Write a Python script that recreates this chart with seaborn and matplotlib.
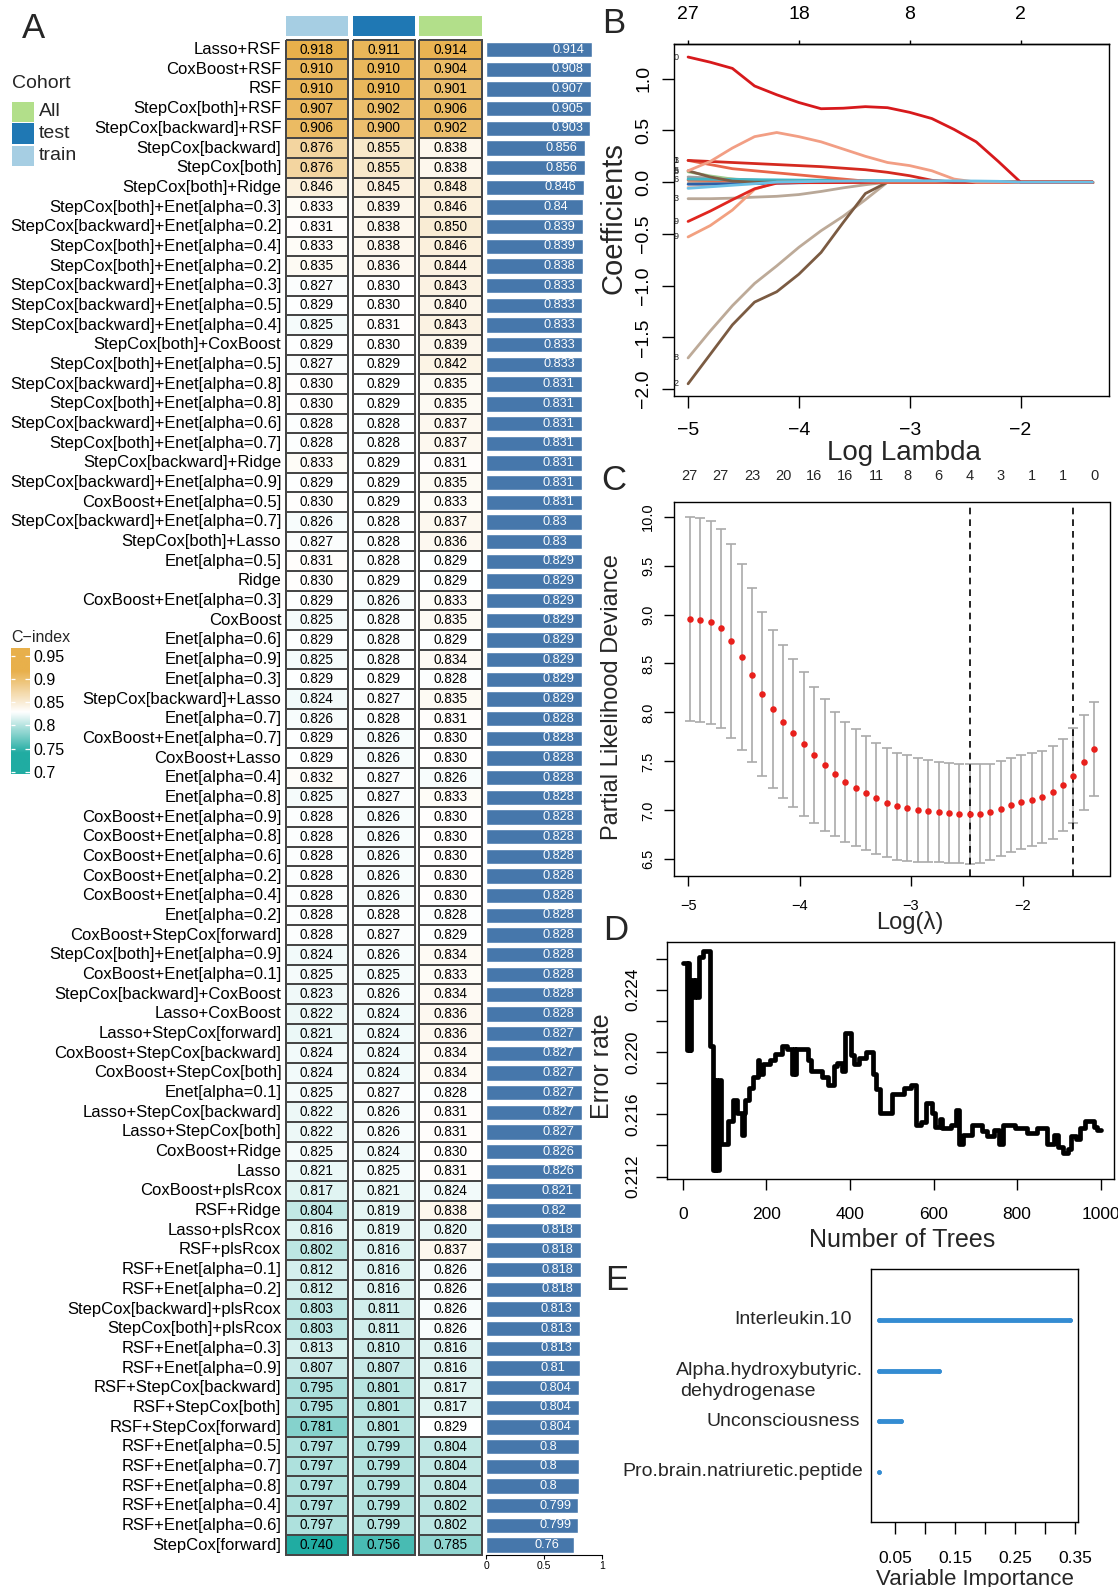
import numpy as np
import pandas as pd
import matplotlib
matplotlib.use("Agg")
import matplotlib.pyplot as plt
import matplotlib.transforms as mtransforms
from matplotlib.colors import LinearSegmentedColormap, Normalize
from matplotlib.patches import Rectangle
import seaborn as sns

# ----------------------------------------------------------------- data (A)
models = [
    "Lasso+RSF", "CoxBoost+RSF", "RSF", "StepCox[both]+RSF", "StepCox[backward]+RSF",
    "StepCox[backward]", "StepCox[both]", "StepCox[both]+Ridge",
    "StepCox[both]+Enet[alpha=0.3]", "StepCox[backward]+Enet[alpha=0.2]",
    "StepCox[both]+Enet[alpha=0.4]", "StepCox[both]+Enet[alpha=0.2]",
    "StepCox[backward]+Enet[alpha=0.3]", "StepCox[backward]+Enet[alpha=0.5]",
    "StepCox[backward]+Enet[alpha=0.4]", "StepCox[both]+CoxBoost",
    "StepCox[both]+Enet[alpha=0.5]", "StepCox[backward]+Enet[alpha=0.8]",
    "StepCox[both]+Enet[alpha=0.8]", "StepCox[backward]+Enet[alpha=0.6]",
    "StepCox[both]+Enet[alpha=0.7]", "StepCox[backward]+Ridge",
    "StepCox[backward]+Enet[alpha=0.9]", "CoxBoost+Enet[alpha=0.5]",
    "StepCox[backward]+Enet[alpha=0.7]", "StepCox[both]+Lasso", "Enet[alpha=0.5]",
    "Ridge", "CoxBoost+Enet[alpha=0.3]", "CoxBoost", "Enet[alpha=0.6]",
    "Enet[alpha=0.9]", "Enet[alpha=0.3]", "StepCox[backward]+Lasso", "Enet[alpha=0.7]",
    "CoxBoost+Enet[alpha=0.7]", "CoxBoost+Lasso", "Enet[alpha=0.4]", "Enet[alpha=0.8]",
    "CoxBoost+Enet[alpha=0.9]", "CoxBoost+Enet[alpha=0.8]", "CoxBoost+Enet[alpha=0.6]",
    "CoxBoost+Enet[alpha=0.2]", "CoxBoost+Enet[alpha=0.4]", "Enet[alpha=0.2]",
    "CoxBoost+StepCox[forward]", "StepCox[both]+Enet[alpha=0.9]",
    "CoxBoost+Enet[alpha=0.1]", "StepCox[backward]+CoxBoost", "Lasso+CoxBoost",
    "Lasso+StepCox[forward]", "CoxBoost+StepCox[backward]", "CoxBoost+StepCox[both]",
    "Enet[alpha=0.1]", "Lasso+StepCox[backward]", "Lasso+StepCox[both]",
    "CoxBoost+Ridge", "Lasso", "CoxBoost+plsRcox", "RSF+Ridge", "Lasso+plsRcox",
    "RSF+plsRcox", "RSF+Enet[alpha=0.1]", "RSF+Enet[alpha=0.2]",
    "StepCox[backward]+plsRcox", "StepCox[both]+plsRcox", "RSF+Enet[alpha=0.3]",
    "RSF+Enet[alpha=0.9]", "RSF+StepCox[backward]", "RSF+StepCox[both]",
    "RSF+StepCox[forward]", "RSF+Enet[alpha=0.5]", "RSF+Enet[alpha=0.7]",
    "RSF+Enet[alpha=0.8]", "RSF+Enet[alpha=0.4]", "RSF+Enet[alpha=0.6]",
    "StepCox[forward]",
]
cidx_train = [
    0.918, 0.910, 0.910, 0.907, 0.906, 0.876, 0.876, 0.846, 0.833, 0.831, 0.833, 0.835,
    0.827, 0.829, 0.825, 0.829, 0.827, 0.830, 0.830, 0.828, 0.828, 0.833, 0.829, 0.830,
    0.826, 0.827, 0.831, 0.830, 0.829, 0.825, 0.829, 0.825, 0.829, 0.824, 0.826, 0.829,
    0.829, 0.832, 0.825, 0.828, 0.828, 0.828, 0.828, 0.828, 0.828, 0.828, 0.824, 0.825,
    0.823, 0.822, 0.821, 0.824, 0.824, 0.825, 0.822, 0.822, 0.825, 0.821, 0.817, 0.804,
    0.816, 0.802, 0.812, 0.812, 0.803, 0.803, 0.813, 0.807, 0.795, 0.795, 0.781, 0.797,
    0.797, 0.797, 0.797, 0.797, 0.740,
]
cidx_test = [
    0.911, 0.910, 0.910, 0.902, 0.900, 0.855, 0.855, 0.845, 0.839, 0.838, 0.838, 0.836,
    0.830, 0.830, 0.831, 0.830, 0.829, 0.829, 0.829, 0.828, 0.828, 0.829, 0.829, 0.829,
    0.828, 0.828, 0.828, 0.829, 0.826, 0.828, 0.828, 0.828, 0.829, 0.827, 0.828, 0.826,
    0.826, 0.827, 0.827, 0.826, 0.826, 0.826, 0.826, 0.826, 0.828, 0.827, 0.826, 0.825,
    0.826, 0.824, 0.824, 0.824, 0.824, 0.827, 0.826, 0.826, 0.824, 0.825, 0.821, 0.819,
    0.819, 0.816, 0.816, 0.816, 0.811, 0.811, 0.810, 0.807, 0.801, 0.801, 0.801, 0.799,
    0.799, 0.799, 0.799, 0.799, 0.756,
]
cidx_all = [
    0.914, 0.904, 0.901, 0.906, 0.902, 0.838, 0.838, 0.848, 0.846, 0.850, 0.846, 0.844,
    0.843, 0.840, 0.843, 0.839, 0.842, 0.835, 0.835, 0.837, 0.837, 0.831, 0.835, 0.833,
    0.837, 0.836, 0.829, 0.829, 0.833, 0.835, 0.829, 0.834, 0.828, 0.835, 0.831, 0.830,
    0.830, 0.826, 0.833, 0.830, 0.830, 0.830, 0.830, 0.830, 0.828, 0.829, 0.834, 0.833,
    0.834, 0.836, 0.836, 0.834, 0.834, 0.828, 0.831, 0.831, 0.830, 0.831, 0.824, 0.838,
    0.820, 0.837, 0.826, 0.826, 0.826, 0.826, 0.816, 0.816, 0.817, 0.817, 0.829, 0.804,
    0.804, 0.804, 0.802, 0.802, 0.785,
]
cidx_mean = [
    0.914, 0.908, 0.907, 0.905, 0.903, 0.856, 0.856, 0.846, 0.84, 0.839, 0.839, 0.838,
    0.833, 0.833, 0.833, 0.833, 0.833, 0.831, 0.831, 0.831, 0.831, 0.831, 0.831, 0.831,
    0.83, 0.83, 0.829, 0.829, 0.829, 0.829, 0.829, 0.829, 0.829, 0.829, 0.828, 0.828,
    0.828, 0.828, 0.828, 0.828, 0.828, 0.828, 0.828, 0.828, 0.828, 0.828, 0.828, 0.828,
    0.828, 0.828, 0.827, 0.827, 0.827, 0.827, 0.827, 0.827, 0.826, 0.826, 0.821, 0.82,
    0.818, 0.818, 0.818, 0.818, 0.813, 0.813, 0.813, 0.81, 0.804, 0.804, 0.804, 0.8,
    0.8, 0.8, 0.799, 0.799, 0.76,
]
cohorts = ["train", "test", "All"]
cohort_colors = {"train": "#A6CEE3", "test": "#1F78B4", "All": "#B2DF8A"}
cidx_legend_ticks = [0.95, 0.9, 0.85, 0.8, 0.75, 0.7]

# ----------------------------------------------------------------- data (B)
logl_B = [-5.0, -4.8, -4.6, -4.4, -4.2, -4.0, -3.8, -3.6, -3.4, -3.2, -3.0, -2.8,
          -2.6, -2.4, -2.2, -2.0, -1.35]
coef_B = {
    "v01": [-0.06, -0.045, -0.03, -0.015, 0.0, 0.004, 0.008, 0.010, 0.012, 0.013, 0.013,
            0.013, 0.012, 0.011, 0.008, 0.0, 0.0],
    "v02": [0.03, 0.028, 0.026, 0.024, 0.022, 0.02, 0.019, 0.018, 0.016, 0.014, 0.012,
            0.010, 0.008, 0.006, 0.004, 0.0, 0.0],
    "v04": [-0.02, -0.018, -0.016, -0.014, -0.01, -0.006, -0.003, 0, 0, 0, 0, 0, 0, 0, 0, 0, 0],
    "v06": [0.10, 0.06, 0.03, 0.01, 0, 0, 0, 0, 0, 0, 0, 0, 0, 0, 0, 0, 0],
    "v07": [-0.05, -0.03, -0.01, 0, 0, 0, 0, 0, 0, 0, 0, 0, 0, 0, 0, 0, 0],
    "v08": [0.05, 0.04, 0.03, 0.02, 0.01, 0, 0, 0, 0, 0, 0, 0, 0, 0, 0, 0, 0],
    "v11": [0.02, 0.015, 0.01, 0.005, 0, 0, 0, 0, 0, 0, 0, 0, 0, 0, 0, 0, 0],
    "v23": [-0.16, -0.16, -0.155, -0.145, -0.137, -0.12, -0.09, -0.055, -0.025, 0.0, 0,
            0, 0, 0, 0, 0, 0],
    "v18": [-1.70, -1.44, -1.195, -0.98, -0.81, -0.63, -0.47, -0.33, -0.17, 0.0, 0, 0,
            0, 0, 0, 0, 0],
    "v22": [-1.95, -1.665, -1.38, -1.16, -1.06, -0.89, -0.68, -0.39, -0.11, 0.0, 0, 0,
            0, 0, 0, 0, 0],
    "v21": [0.11, 0.05, 0.01, 0.0, 0, 0, 0, 0, 0, 0, 0, 0, 0, 0, 0, 0, 0],
    "v29": [-0.53, -0.42, -0.27, -0.07, 0.0, 0, 0, 0, 0, 0, 0, 0, 0, 0, 0, 0, 0],
    "v19": [-0.38, -0.28, -0.17, -0.064, -0.01, -0.005, -0.005, -0.004, -0.002, 0.0, 0,
            0, 0, 0, 0, 0, 0],
    "v05": [0.21, 0.17, 0.13, 0.11, 0.09, 0.07, 0.05, 0.03, 0.01, 0.0, 0, 0, 0, 0, 0, 0, 0],
    "v03": [0.21, 0.20, 0.19, 0.18, 0.17, 0.16, 0.15, 0.135, 0.12, 0.095, 0.062, 0.018,
            0.0, 0, 0, 0, 0],
    "v13": [0.11, 0.20, 0.33, 0.44, 0.48, 0.44, 0.39, 0.32, 0.25, 0.19, 0.16, 0.11, 0.03,
            0.0, 0, 0, 0],
    "v10": [1.21, 1.16, 1.10, 0.93, 0.845, 0.77, 0.71, 0.715, 0.73, 0.72, 0.675, 0.615,
            0.51, 0.39, 0.20, 0.0, 0.0],
    "v09": [0.0, 0.0, 0.0, 0.0, 0.0, 0.0, 0.0, 0.0, 0.0, 0.0, 0.0, 0.0, 0.0, 0.0, 0.0,
            0.0, 0.0],
}
colors_B = {
    "v01": "#6CC0E5", "v02": "#41B6C4", "v04": "#2B5FA8", "v06": "#9CCB8E",
    "v07": "#F6C1A8", "v08": "#A0A0A0", "v11": "#E07050", "v23": "#B9A898",
    "v18": "#BDAA98", "v22": "#7B5B42", "v21": "#7D5F47", "v29": "#F2A080",
    "v19": "#E0261F", "v05": "#E8664A", "v03": "#D42A20", "v13": "#F29E84",
    "v10": "#D7191C", "v09": "#BDAA98",
}
tags_B = {"v10": "0", "v03": "3", "v05": "1", "v21": "5", "v06": "8", "v02": "6",
          "v23": "3", "v19": "9", "v29": "9", "v18": "8", "v22": "2"}
top_B_pos = [-5, -4, -3, -2]
top_B_lab = ["27", "18", "8", "2"]

# ----------------------------------------------------------------- data (C)
logl_C = [-4.985, -4.892, -4.799, -4.706, -4.613, -4.520, -4.427, -4.334, -4.241, -4.148,
          -4.055, -3.962, -3.869, -3.776, -3.683, -3.590, -3.497, -3.404, -3.311, -3.218,
          -3.125, -3.032, -2.939, -2.846, -2.753, -2.660, -2.567, -2.474, -2.381, -2.288,
          -2.195, -2.102, -2.009, -1.916, -1.823, -1.730, -1.637, -1.544, -1.451, -1.358]
dev_C = [8.958, 8.948, 8.920, 8.860, 8.730, 8.570, 8.380, 8.190, 8.035, 7.906,
         7.790, 7.678, 7.566, 7.463, 7.372, 7.290, 7.232, 7.177, 7.123, 7.079,
         7.041, 7.021, 7.004, 6.994, 6.983, 6.973, 6.966, 6.963, 6.966, 6.983,
         7.017, 7.055, 7.089, 7.109, 7.137, 7.184, 7.259, 7.354, 7.490, 7.630]
se_C = [1.042, 1.042, 1.035, 1.014, 0.990, 0.950, 0.888, 0.836, 0.805, 0.784,
        0.756, 0.732, 0.698, 0.671, 0.633, 0.616, 0.596, 0.583, 0.569, 0.558,
        0.548, 0.541, 0.527, 0.517, 0.514, 0.507, 0.508, 0.507, 0.504, 0.494,
        0.487, 0.483, 0.480, 0.473, 0.469, 0.477, 0.473, 0.486, 0.488, 0.480]
nvars_C = ["27", "27", "23", "20", "16", "16", "11", "8", "6", "4", "3", "1", "1", "0"]
lambda_min = -2.474
lambda_1se = -1.544

# ----------------------------------------------------------------- data (D)
trees_D = [1, 10, 12, 14, 16, 18, 20, 26, 30, 35, 39, 48, 64, 72, 75, 77, 80, 83, 86, 92,
           109, 121, 130, 142, 146, 150, 158, 167, 179, 183, 191, 208, 220, 237, 249, 262,
           266, 268, 270, 299, 307, 332, 348, 361, 369, 381, 389, 402, 410, 422, 439, 454,
           462, 472, 501, 530, 546, 559, 571, 583, 596, 604, 616, 620, 641, 653, 662, 670,
           691, 715, 728, 744, 757, 765, 794, 823, 847, 872, 889, 897, 909, 922, 930, 942,
           950, 963, 984, 992, 1000]
err_D = [0.2257, 0.2201, 0.2257, 0.2201, 0.2246, 0.2201, 0.2246, 0.2235, 0.2246, 0.2235,
         0.2261, 0.2265, 0.2204, 0.2124, 0.2182, 0.2124, 0.2182, 0.2124, 0.2182, 0.2141,
         0.2156, 0.2169, 0.2161, 0.2147, 0.2161, 0.2169, 0.2177, 0.2184, 0.2195, 0.2186,
         0.2192, 0.2195, 0.2199, 0.2204, 0.2202, 0.2186, 0.2202, 0.2186, 0.2202, 0.2195,
         0.2188, 0.2184, 0.2179, 0.2191, 0.2193, 0.2188, 0.2212, 0.2198, 0.2192, 0.2196,
         0.2200, 0.2186, 0.2176, 0.2161, 0.2173, 0.2177, 0.2179, 0.2153, 0.2155, 0.2167,
         0.2161, 0.2152, 0.2157, 0.2151, 0.2153, 0.2163, 0.2141, 0.2147, 0.2153, 0.2149,
         0.2146, 0.2150, 0.2141, 0.2153, 0.2151, 0.2148, 0.2151, 0.2141, 0.2147, 0.2139,
         0.2135, 0.2138, 0.2146, 0.2144, 0.2151, 0.2156, 0.2152, 0.2150, 0.2150]

# ----------------------------------------------------------------- data (E)
vars_E = ["Interleukin.10", "Alpha.hydroxybutyric.\ndehydrogenase", "Unconsciousness",
          "Pro.brain.natriuretic.peptide"]
vimp_E = [0.3412, 0.1224, 0.0592, 0.0226]
ticks_E = [0.05, 0.10, 0.15, 0.20, 0.25, 0.30, 0.35]
ticklabels_E = ["0.05", "", "0.15", "", "0.25", "", "0.35"]

# ----------------------------------------------------------------- style
sns.set_style("white")
plt.rcParams["font.family"] = ["Liberation Sans", "DejaVu Sans"]
plt.rcParams["axes.linewidth"] = 1.0
plt.rcParams["axes.edgecolor"] = "black"
plt.rcParams["xtick.color"] = "black"
plt.rcParams["ytick.color"] = "black"

W, H = 1118, 1587
fig = plt.figure(figsize=(W / 100, H / 100), dpi=100)


def add_ax(l, t, r, b, **kw):
    return fig.add_axes([l / W, 1 - b / H, (r - l) / W, (b - t) / H], **kw)


# ----------------------------------------------------------------- panel A
ROW_T, ROW_B = 39.8, 1555
cmap = LinearSegmentedColormap.from_list("cidx", ["#20ACA2", "#FFFFFF", "#E8B04B"])
VMIN, VMAX = 0.74, 0.918
col_x = [(285.5, 348), (352.5, 415), (419, 482)]
col_vals = {"train": cidx_train, "test": cidx_test, "All": cidx_all}

for j, name in enumerate(cohorts):
    xl, xr = col_x[j]
    ax = add_ax(xl, ROW_T, xr, ROW_B)
    df = pd.DataFrame({name: col_vals[name]}, index=models)
    sns.heatmap(df, ax=ax, cmap=cmap, vmin=VMIN, vmax=VMAX, annot=True, fmt=".3f",
                annot_kws=dict(fontsize=9.8, color="black"), linewidths=1.1,
                linecolor="#474747", cbar=False, xticklabels=False,
                yticklabels=(j == 0))
    ax.collections[0].set_clip_on(False)
    if j == 0:
        ax.set_yticks(np.arange(len(models)) + 0.5)
        ax.set_yticklabels(models, rotation=0, fontsize=12, ha="right")
        ax.tick_params(axis="y", length=0, pad=3)
    ax.set_ylabel("")
    hax = add_ax(xl, 16, xr, 35.5)
    hax.set_facecolor(cohort_colors[name])
    hax.set_xticks([]); hax.set_yticks([])
    for s in hax.spines.values():
        s.set_visible(False)

bax = add_ax(486, ROW_T, 601.7, ROW_B)
sns.barplot(x=cidx_mean, y=models, orient="h", color="#4677AB", saturation=1,
            width=0.78, ax=bax)
bax.set_xlim(0, 1)
bax.set_ylim(len(models) - 0.5, -0.5)
bax.set_yticks([])
bax.set_ylabel(""); bax.set_xlabel("")
for s in ["top", "right", "left"]:
    bax.spines[s].set_visible(False)
bax.spines["bottom"].set_linewidth(0.8)
bax.set_xticks([0, 0.5, 1])
bax.set_xticklabels(["0", "0.5", "1"])
bax.tick_params(axis="x", length=3, width=0.8, labelsize=7.5, pad=1.5, bottom=True)
for i, v in enumerate(cidx_mean):
    bax.text(v - 0.34, i, f"{v:g}", color="white", ha="left", va="center", fontsize=9.2)

# colour legend
cax = add_ax(11, 648, 29.5, 774)
grad = np.linspace(0.967, 0.695, 200).reshape(-1, 1)
cax.imshow(grad, aspect="auto", cmap=cmap, norm=Normalize(VMIN, VMAX),
           extent=[0, 1, 0.695, 0.967], origin="upper")
cax.set_xlim(0, 1); cax.set_ylim(0.695, 0.967)
cax.hlines(cidx_legend_ticks, 0, 0.22, color="white", lw=0.9)
cax.hlines(cidx_legend_ticks, 0.78, 1, color="white", lw=0.9)
cax.yaxis.tick_right()
cax.set_yticks(cidx_legend_ticks)
cax.set_yticklabels([f"{t:g}" for t in cidx_legend_ticks])
cax.tick_params(axis="y", length=0, pad=3, labelsize=11.5)
cax.set_xticks([])
for s in cax.spines.values():
    s.set_visible(False)

# ----------------------------------------------------------------- panel B
axB = add_ax(674, 44.3, 1108.6, 396)
recs = [(x, v, k) for k, vals in coef_B.items() for x, v in zip(logl_B, vals)]
dfB = pd.DataFrame(recs, columns=["logl", "coef", "var"])
order_B = ["v09", "v07", "v08", "v11", "v04", "v06", "v02", "v23", "v18", "v22", "v21",
           "v29", "v19", "v05", "v03", "v13", "v10", "v01"]
sns.lineplot(data=dfB, x="logl", y="coef", hue="var", hue_order=order_B,
             palette=colors_B, estimator=None, sort=False, lw=2.0, legend=False, ax=axB)
axB.set_xlim(-5.127, -1.205)
axB.set_ylim(-2.068, 1.333)
for k, t in tags_B.items():
    axB.text(-5.088, coef_B[k][0], t, fontsize=6.5, ha="right", va="center")
axB.set_xticks([-5, -4, -3, -2])
axB.set_yticks([-2.0, -1.5, -1.0, -0.5, 0.0, 0.5, 1.0])
axB.set_yticklabels(["\u22122.0", "\u22121.5", "\u22121.0", "\u22120.5", "0.0", "0.5", "1.0"])
axB.tick_params(axis="both", labelsize=14, length=8.6, width=1, direction="out",
                left=True, bottom=True)
axB.tick_params(axis="x", pad=10)
axB.tick_params(axis="y", labelrotation=90, pad=7)
for lab in axB.get_yticklabels():
    lab.set_va("center")
axB.set_xlabel("Log Lambda", fontsize=20)
axB.set_ylabel("Coefficients", fontsize=21)
axB.xaxis.label.set_va("center"); axB.yaxis.label.set_va("center")
axB.xaxis.set_label_coords(0.528, -0.162)
axB.yaxis.set_label_coords(-0.139, 0.507)
secB = axB.secondary_xaxis("top")
secB.set_xticks(top_B_pos)
secB.set_xticklabels(top_B_lab)
secB.tick_params(length=3, width=1, labelsize=14, pad=12)
for s in axB.spines.values():
    s.set_linewidth(1.0)

# ----------------------------------------------------------------- panel C
axC = add_ax(674, 501.7, 1109.5, 876)
axC.errorbar(logl_C, dev_C, yerr=se_C, fmt="none", ecolor="#AAAAAA", elinewidth=1.2,
             capsize=3.6, capthick=1.2, zorder=2)
sns.scatterplot(x=logl_C, y=dev_C, color="#E8201C", s=22, linewidth=0, zorder=3, ax=axC)
axC.axvline(lambda_min, color="black", ls=(0, (4, 3)), lw=1.2)
axC.axvline(lambda_1se, color="black", ls=(0, (4, 3)), lw=1.2)
axC.set_xlim(-5.1265, -1.2195)
axC.set_ylim(6.329, 10.153)
axC.set_xticks([-5, -4, -3, -2])
axC.set_yticks([6.5, 7.0, 7.5, 8.0, 8.5, 9.0, 9.5, 10.0])
axC.set_yticklabels(["6.5", "7.0", "7.5", "8.0", "8.5", "9.0", "9.5", "10.0"])
axC.tick_params(axis="both", labelsize=10.5, length=7.2, width=1, direction="out",
                left=True, bottom=True)
axC.tick_params(axis="x", pad=9)
axC.tick_params(axis="y", labelrotation=90, pad=6.5)
for lab in axC.get_yticklabels():
    lab.set_va("center")
trC = mtransforms.blended_transform_factory(axC.transData, axC.transAxes)
for k, lab in enumerate(nvars_C):
    axC.text(logl_C[3 * k], 1.0687, lab, transform=trC, fontsize=10.5,
             ha="center", va="center")
axC.set_xlabel("Log(\u03bb)", fontsize=17)
axC.set_ylabel("Partial Likelihood Deviance", fontsize=17)
axC.xaxis.label.set_va("center"); axC.yaxis.label.set_va("center")
axC.xaxis.set_label_coords(0.542, -0.124)
axC.yaxis.set_label_coords(-0.142, 0.478)

# ----------------------------------------------------------------- panel D
axD = add_ax(666.6, 942.3, 1114, 1179.3)
sns.lineplot(x=trees_D, y=err_D, color="black", lw=3.4, estimator=None,
             drawstyle="steps-post", ax=axD)
axD.set_xlim(-38.8, 1031.8)
axD.set_ylim(0.21183, 0.22704)
axD.set_xticks([0, 200, 400, 600, 800, 1000])
yt = [0.212, 0.214, 0.216, 0.218, 0.220, 0.222, 0.224, 0.226]
axD.set_yticks(yt)
axD.set_yticklabels(["0.212", "", "0.216", "", "0.220", "", "0.224", ""])
axD.tick_params(axis="both", labelsize=12.5, length=7.7, width=1, direction="out",
                left=True, bottom=True)
axD.tick_params(axis="x", pad=12)
axD.tick_params(axis="y", labelrotation=90, pad=11)
for lab in axD.get_yticklabels():
    lab.set_va("center")
axD.set_xlabel("Number of Trees", fontsize=18)
axD.set_ylabel("Error rate", fontsize=18)
axD.xaxis.label.set_va("center"); axD.yaxis.label.set_va("center")
axD.xaxis.set_label_coords(0.526, -0.255)
axD.yaxis.set_label_coords(-0.1435, 0.476)

# ----------------------------------------------------------------- panel E
axE = add_ax(871, 1269.3, 1078, 1522.3)
ypos_E = [4, 3, 2, 1]
base_E = min(vimp_E)
lc = axE.hlines(ypos_E, base_E, vimp_E, color="#348CD2", lw=3.5)
lc.set_capstyle("round")
sns.scatterplot(x=vimp_E, y=ypos_E, color="#348CD2", s=11, linewidth=0, ax=axE)
sns.scatterplot(x=[base_E] * 4, y=ypos_E, color="#348CD2", s=11, linewidth=0, ax=axE)
axE.set_xlim(0.0098, 0.3547)
axE.set_ylim(0, 5)
axE.set_yticks([])
axE.set_xticks(ticks_E)
axE.set_xticklabels(ticklabels_E)
axE.tick_params(axis="x", labelsize=12.5, length=8.9, width=1, direction="out",
                bottom=True, pad=12)
axE.set_xlabel("Variable Importance", fontsize=16)
axE.xaxis.label.set_va("center")
axE.xaxis.set_label_coords(0.5, -0.225)
trE = mtransforms.blended_transform_factory(axE.transAxes, axE.transData)
E_right = [(852 - 871) / 207, (863 - 871) / 207, (860 - 871) / 207, (863.5 - 871) / 207]
for k, lab in enumerate(vars_E):
    if "\n" in lab:
        l1, l2 = lab.split("\n")
        axE.text(E_right[k], ypos_E[k], l1, transform=trE, fontsize=14, ha="right",
                 va="center")
        axE.text((680 - 871) / 207, ypos_E[k] - 0.42, l2, transform=trE, fontsize=14,
                 ha="left", va="center")
    else:
        axE.text(E_right[k], ypos_E[k], lab, transform=trE, fontsize=14, ha="right",
                 va="center")

# ----------------------------------------------------------------- overlay (legend, letters)
ov = fig.add_axes([0, 0, 1, 1], zorder=20)
ov.set_xlim(0, W); ov.set_ylim(H, 0); ov.axis("off"); ov.patch.set_alpha(0)
for letter, (x, y) in {"A": (33.4, 28), "B": (613.7, 23.3), "C": (613.7, 480),
                       "D": (616, 930), "E": (617, 1280)}.items():
    ov.text(x, y, letter, fontsize=25, ha="center", va="center")
ov.text(12, 83, "Cohort", fontsize=14, va="center", ha="left")
for lab, (y0, y1) in zip(["All", "test", "train"], [(101.7, 122), (123, 144), (145.5, 166)]):
    ov.add_patch(Rectangle((12, y0), 21.5, y1 - y0, fc=cohort_colors[lab], ec="none"))
    ov.text(39, (y0 + y1) / 2, lab, fontsize=14, va="center", ha="left")
ov.text(11, 638, "C\u2212index", fontsize=11.5, va="center", ha="left")

fig.savefig("out.png", dpi=100)
